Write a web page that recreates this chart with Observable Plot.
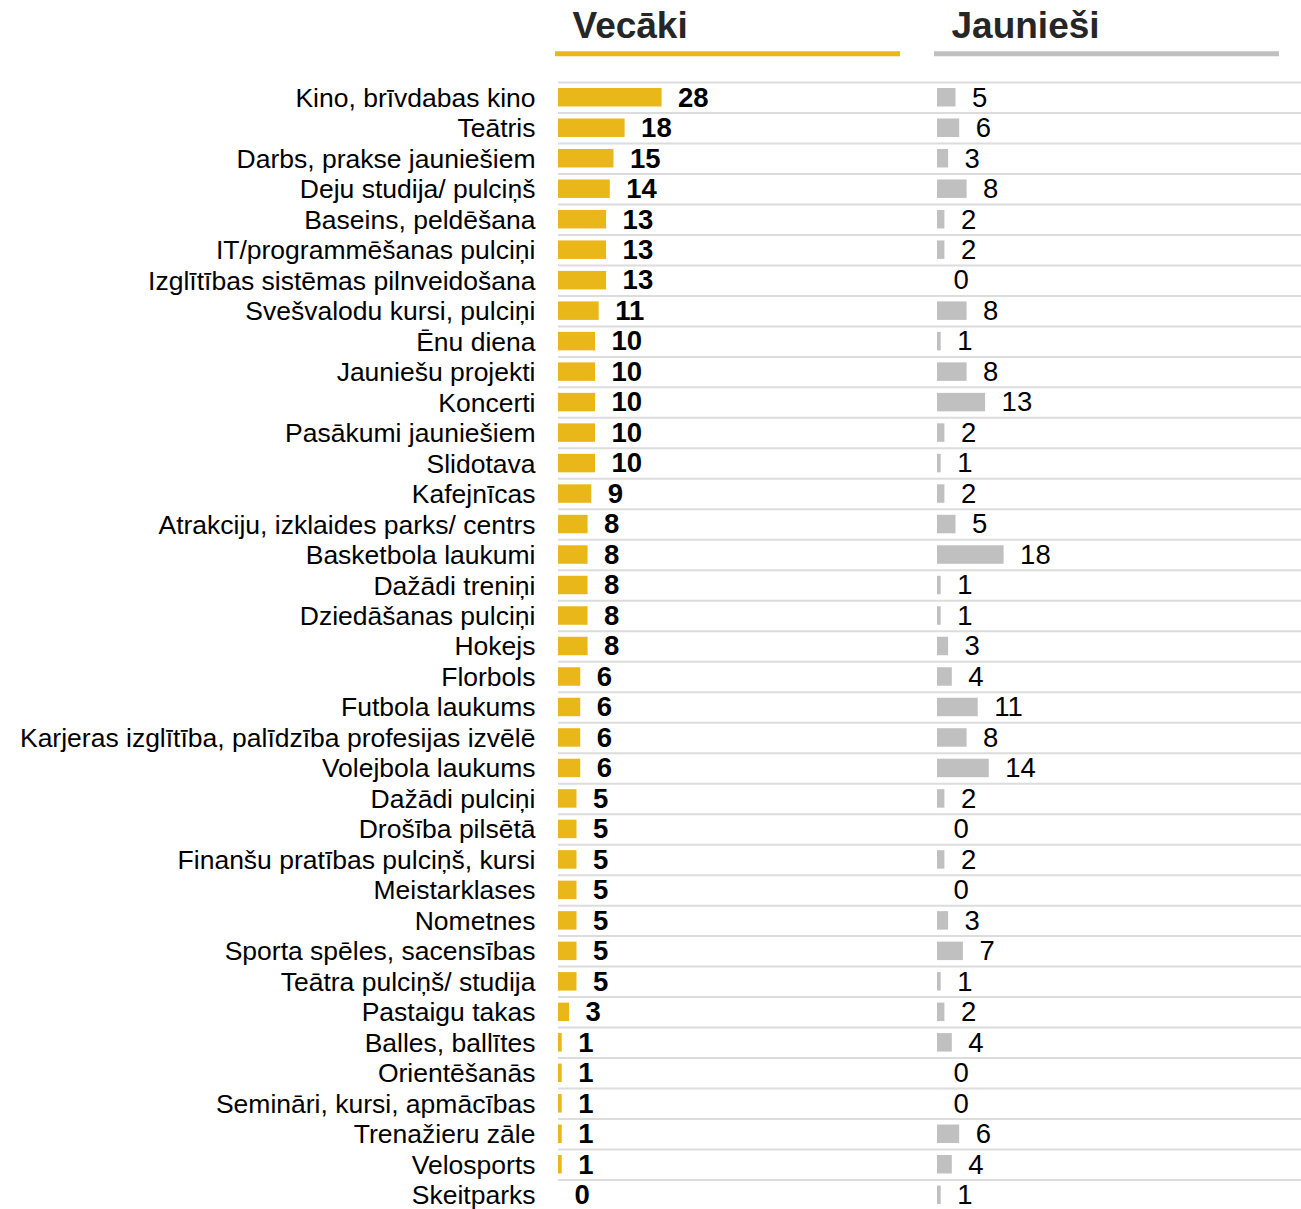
<!DOCTYPE html>
<html><head><meta charset="utf-8">
<script src="https://cdn.jsdelivr.net/npm/d3@7"></script>
<script src="https://cdn.jsdelivr.net/npm/@observablehq/plot@0.6"></script>
<style>body{margin:0;background:#fff}</style>
</head><body><div id="chart"></div>
<script>
const categories = [
  "Kino, brīvdabas kino", "Teātris", "Darbs, prakse jauniešiem", "Deju studija/ pulciņš",
  "Baseins, peldēšana", "IT/programmēšanas pulciņi", "Izglītības sistēmas pilnveidošana",
  "Svešvalodu kursi, pulciņi", "Ēnu diena", "Jauniešu projekti", "Koncerti",
  "Pasākumi jauniešiem", "Slidotava", "Kafejnīcas", "Atrakciju, izklaides parks/ centrs",
  "Basketbola laukumi", "Dažādi treniņi", "Dziedāšanas pulciņi", "Hokejs", "Florbols",
  "Futbola laukums", "Karjeras izglītība, palīdzība profesijas izvēlē", "Volejbola laukums",
  "Dažādi pulciņi", "Drošība pilsētā", "Finanšu pratības pulciņš, kursi", "Meistarklases",
  "Nometnes", "Sporta spēles, sacensības", "Teātra pulciņš/ studija", "Pastaigu takas",
  "Balles, ballītes", "Orientēšanās", "Semināri, kursi, apmācības", "Trenažieru zāle",
  "Velosports", "Skeitparks"
];
const vecaki = [28, 18, 15, 14, 13, 13, 13, 11, 10, 10, 10, 10, 10, 9, 8, 8, 8, 8, 8, 6, 6, 6, 6, 5, 5, 5, 5, 5, 5, 5, 3, 1, 1, 1, 1, 1, 0];
const jauniesi = [5, 6, 3, 8, 2, 2, 0, 8, 1, 8, 13, 2, 1, 2, 5, 18, 1, 1, 3, 4, 11, 8, 14, 2, 0, 2, 0, 3, 7, 1, 2, 4, 0, 0, 6, 4, 1];
const panels = ["Vecāki", "Jaunieši"];
const panelColors = ["#E9B71A", "#C0C0C0"];

const rowsV = categories.map((c, i) => ({category: c, group: panels[0], value: vecaki[i]}));
const rowsJ = categories.map((c, i) => ({category: c, group: panels[1], value: jauniesi[i]}));

const W = 1301, H = 1209, mTop = 82, mBottom = -1, mLeft = 558;
const step = (H - mTop - mBottom) / categories.length;
const hasAxisMark = typeof Plot.axisY === "function";

const marks = [
  Plot.ruleY(categories, {y: d => d, dy: -step / 2, stroke: "#dcdcdc", strokeWidth: 2, insetRight: -15}),
  Plot.text(panels, {fx: d => d, text: d => d, frameAnchor: "top-left", textAnchor: "start", lineAnchor: "middle",
    dx: 14, dy: -56, fontSize: 37, fontWeight: "bold", fill: "#262626"}),
  Plot.ruleY(panels, {fx: d => d, y: () => categories[0], dy: -44, stroke: (d, i) => panelColors[i],
    strokeWidth: 5, insetLeft: -3, insetRight: 22}),
  Plot.barX(rowsV, {fx: "group", y: "category", x: "value", fill: panelColors[0], insetTop: 6, insetBottom: 6}),
  Plot.barX(rowsJ, {fx: "group", y: "category", x: "value", fill: panelColors[1], insetTop: 6, insetBottom: 6}),
  Plot.text(rowsV, {fx: "group", y: "category", x: "value", text: d => String(d.value), dx: 16,
    textAnchor: "start", fontSize: 27.5, fontWeight: "bold", fill: "#000"}),
  Plot.text(rowsJ, {fx: "group", y: "category", x: "value", text: d => String(d.value), dx: 16,
    textAnchor: "start", fontSize: 27.5, fill: "#000"})
];
if (hasAxisMark) {
  marks.push(Plot.axisY({tickSize: 0, tickPadding: 23, label: null, fontSize: 26.5, dy: 0.5, fill: "#000"}));
}

const chart = Plot.plot({
  width: W,
  height: H,
  marginTop: mTop,
  marginBottom: mBottom,
  marginLeft: mLeft,
  marginRight: 0,
  style: {fontFamily: "Arial, 'Liberation Sans', sans-serif", fontSize: "26.5px", color: "#000", background: "#fff"},
  fx: {domain: panels, paddingInner: 0.0396, paddingOuter: 0, round: false, axis: null},
  x: {domain: [0, 98.4], axis: null},
  y: hasAxisMark
    ? {domain: categories, padding: 0, round: false, axis: null}
    : {domain: categories, padding: 0, round: false, tickSize: 0, tickPadding: 23, label: null},
  marks
});
document.getElementById("chart").appendChild(chart);
</script>
</body></html>
